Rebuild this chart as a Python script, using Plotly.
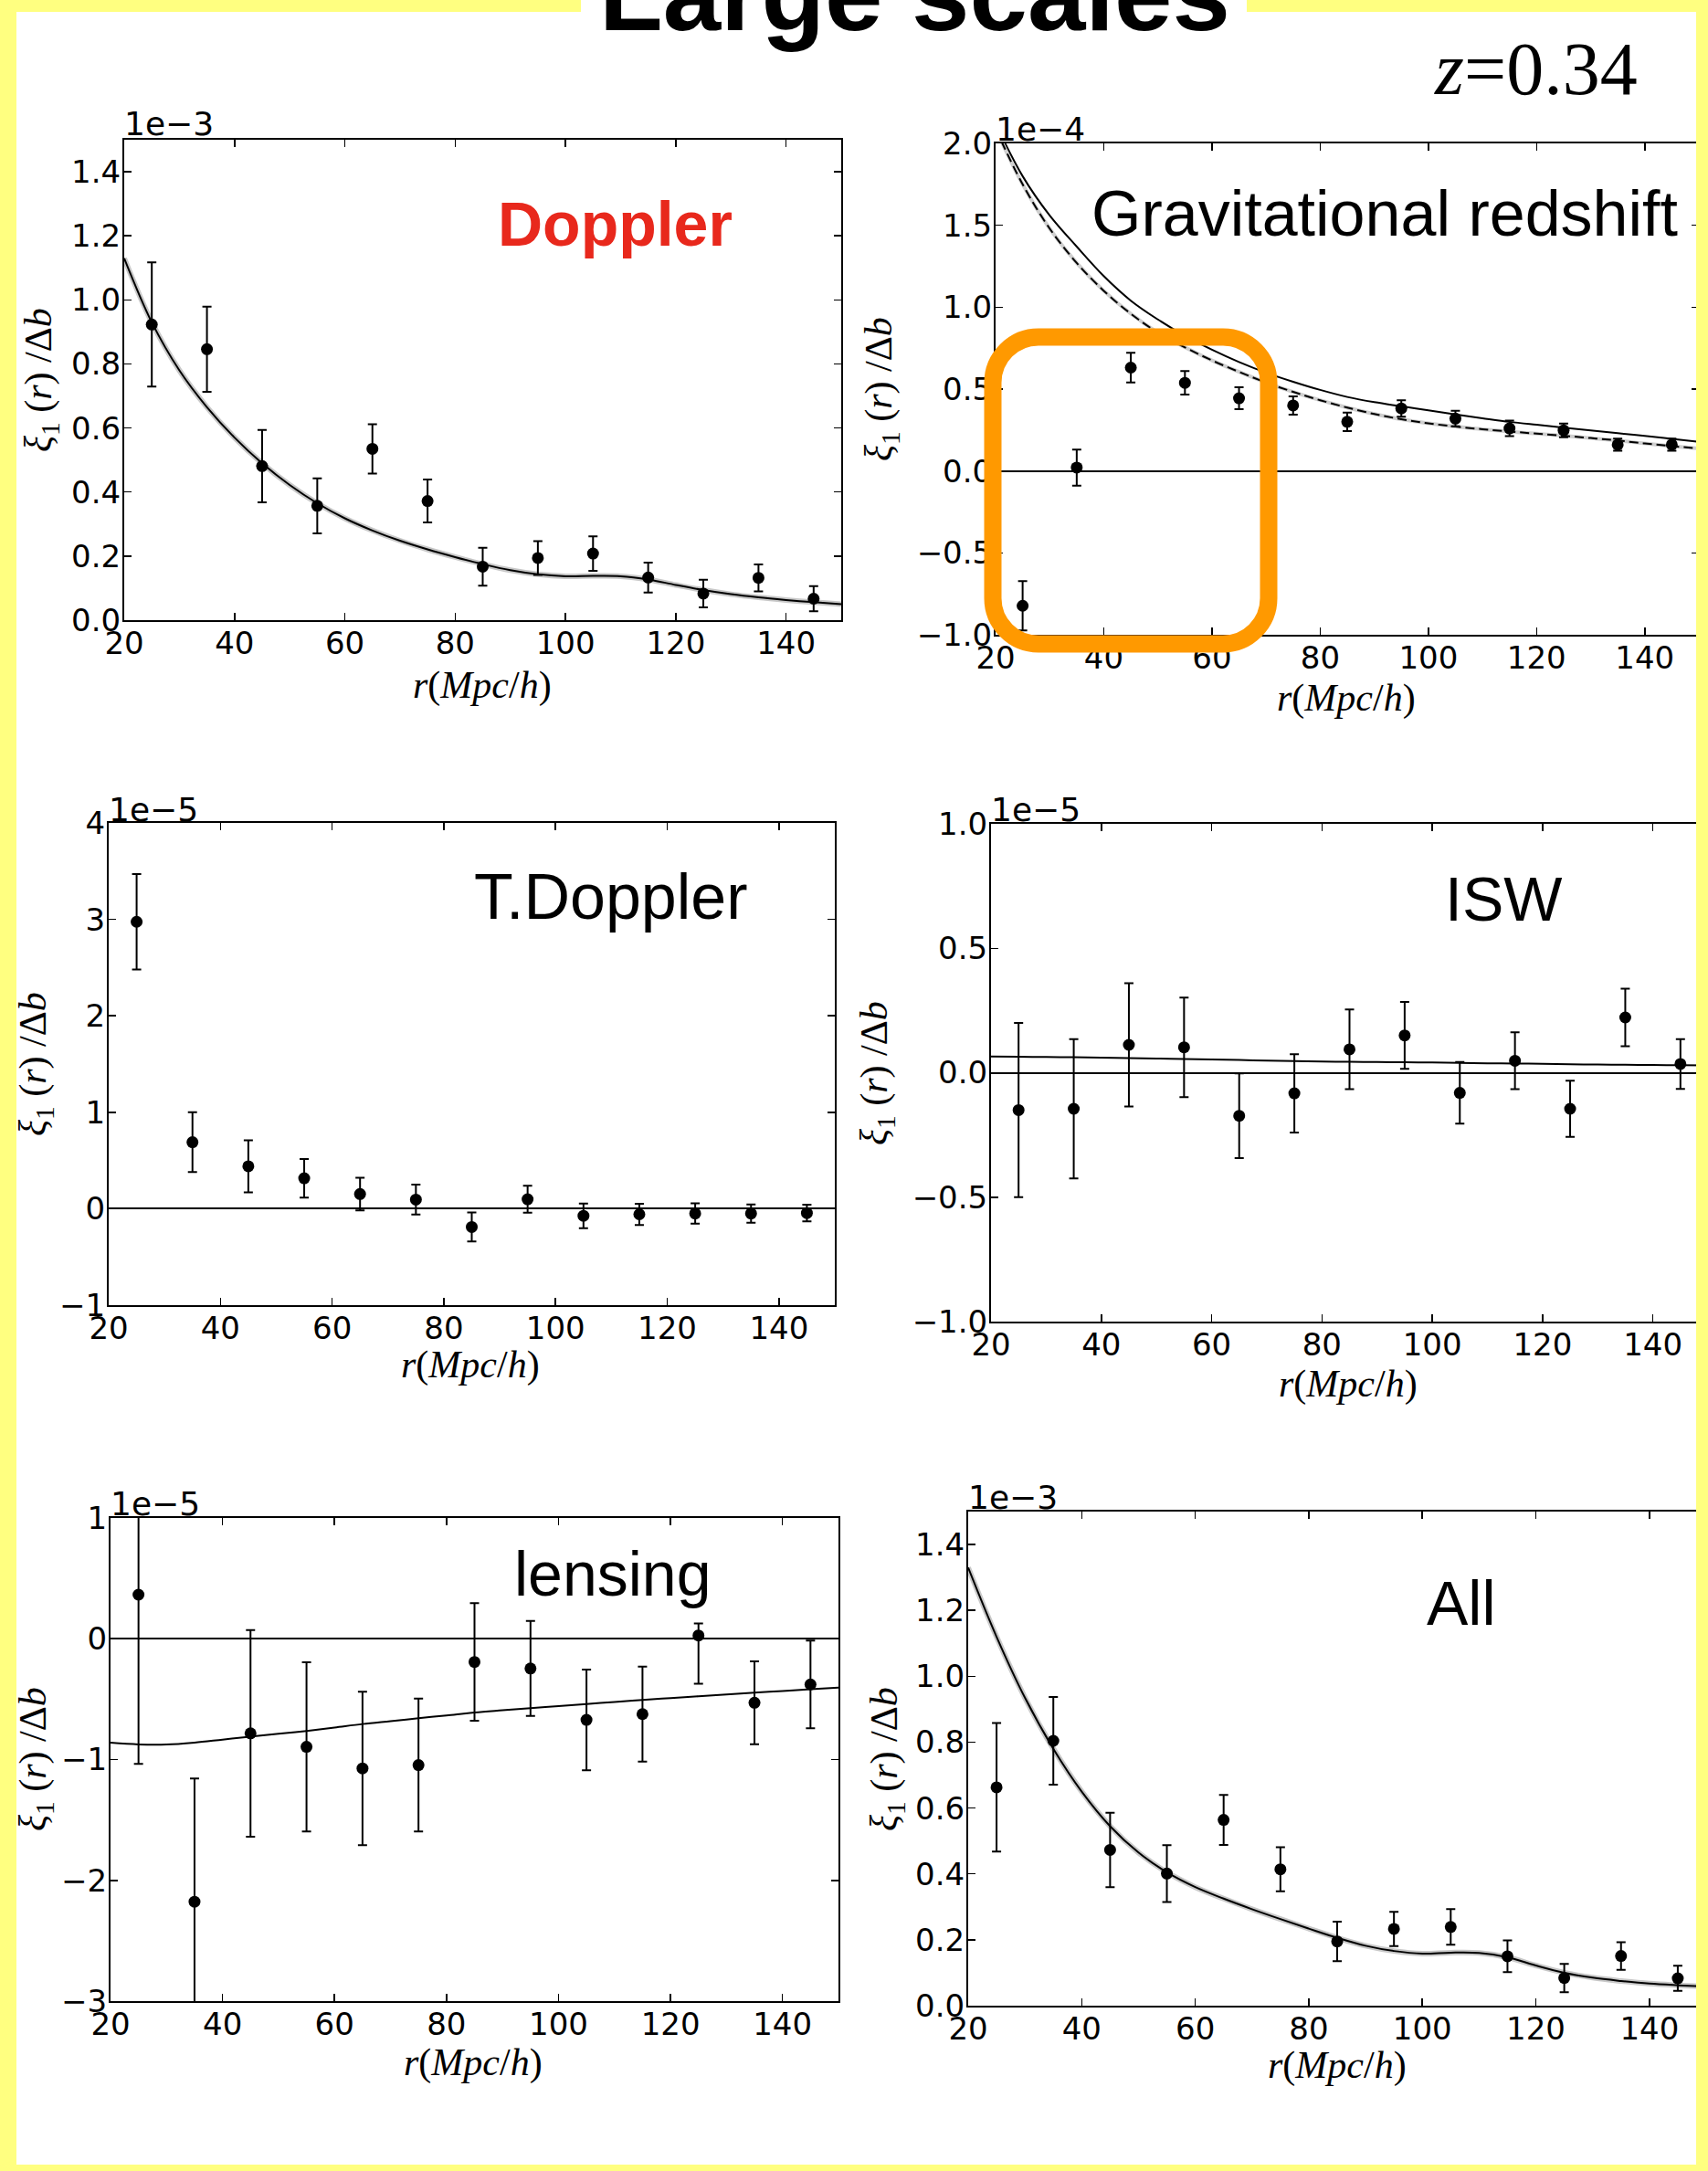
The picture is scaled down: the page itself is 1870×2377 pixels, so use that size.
import plotly.graph_objects as go

W, H = 1870, 2377

# ---------------- data ----------------
r_bins = [25, 35, 45, 55, 65, 75, 85, 95, 105, 115, 125, 135, 145]
r_model = [20, 25, 30, 35, 40, 45, 50, 55, 60, 65, 70, 75, 80, 85, 90, 95,
           100, 105, 110, 115, 120, 125, 130, 135, 140, 145, 150]
x_ticks = [20, 40, 60, 80, 100, 120, 140]

# Doppler (units of 1e-3)
doppler_xi = [0.923, 0.846, 0.481, 0.357, 0.535, 0.372, 0.167, 0.194, 0.208, 0.133, 0.083, 0.132, 0.067]
doppler_err = [0.194, 0.133, 0.113, 0.086, 0.077, 0.067, 0.059, 0.053, 0.054, 0.047, 0.043, 0.042, 0.039]
doppler_model = [1.13, 0.93, 0.78, 0.665, 0.57, 0.49, 0.422, 0.365, 0.318, 0.28, 0.248, 0.221, 0.197,
                 0.175, 0.156, 0.143, 0.137, 0.138, 0.137, 0.127, 0.11, 0.094, 0.081, 0.071, 0.063,
                 0.056, 0.05]

# Gravitational redshift (units of 1e-4)
grav_xi = [-0.823, 0.021, 0.631, 0.538, 0.444, 0.40, 0.30, 0.382, 0.32, 0.26, 0.248, 0.16, 0.16]
grav_err = [0.15, 0.11, 0.09, 0.072, 0.067, 0.056, 0.056, 0.05, 0.047, 0.047, 0.042, 0.037, 0.037]
grav_model_full = [2.12, 1.80, 1.56, 1.37, 1.19, 1.04, 0.925, 0.825, 0.74, 0.665, 0.60, 0.545, 0.495,
                   0.452, 0.42, 0.395, 0.37, 0.345, 0.322, 0.30, 0.282, 0.265, 0.248, 0.231, 0.214,
                   0.196, 0.178]
grav_model_dashed = [2.09, 1.75, 1.48, 1.27, 1.10, 0.96, 0.845, 0.755, 0.675, 0.605, 0.54, 0.483, 0.432,
                     0.387, 0.348, 0.316, 0.291, 0.271, 0.255, 0.241, 0.228, 0.215, 0.201, 0.186, 0.168,
                     0.152, 0.137]

# Transverse Doppler (units of 1e-5)
tdoppler_xi = [2.975, 0.69, 0.44, 0.316, 0.152, 0.094, -0.19, 0.098, -0.074, -0.058, -0.05, -0.05, -0.045]
tdoppler_err = [0.495, 0.31, 0.27, 0.20, 0.17, 0.155, 0.15, 0.14, 0.127, 0.11, 0.105, 0.095, 0.087]

# ISW (units of 1e-5)
isw_xi = [-0.15, -0.145, 0.112, 0.102, -0.173, -0.083, 0.094, 0.15, -0.081, 0.048, -0.145, 0.222, 0.035]
isw_err = [0.35, 0.28, 0.248, 0.20, 0.17, 0.157, 0.16, 0.134, 0.124, 0.114, 0.113, 0.116, 0.10]
isw_model = [0.065, 0.064, 0.063, 0.062, 0.061, 0.059, 0.057, 0.055, 0.053, 0.051, 0.049, 0.047, 0.045,
             0.044, 0.043, 0.042, 0.041, 0.039, 0.038, 0.037, 0.036, 0.034, 0.033, 0.032, 0.031,
             0.030, 0.029]

# Lensing (units of 1e-5)
lensing_xi = [0.365, -2.177, -0.783, -0.895, -1.073, -1.046, -0.192, -0.246, -0.672, -0.624, 0.027, -0.53, -0.378]
lensing_err_plus = [1.40, 1.02, 0.855, 0.70, 0.635, 0.55, 0.486, 0.393, 0.417, 0.393, 0.10, 0.343, 0.363]
lensing_err_minus = [1.40, 1.02, 0.855, 0.70, 0.635, 0.55, 0.486, 0.393, 0.417, 0.393, 0.40, 0.343, 0.363]
lensing_model = [-0.861, -0.875, -0.876, -0.86, -0.835, -0.81, -0.787, -0.763, -0.735, -0.706, -0.682,
                 -0.658, -0.635, -0.611, -0.592, -0.574, -0.557, -0.54, -0.523, -0.506, -0.491,
                 -0.476, -0.461, -0.446, -0.432, -0.418, -0.405]

# All effects (units of 1e-3)
all_xi = [0.663, 0.804, 0.473, 0.401, 0.564, 0.414, 0.195, 0.233, 0.239, 0.15, 0.084, 0.151, 0.083]
all_err = [0.195, 0.133, 0.113, 0.086, 0.076, 0.067, 0.06, 0.052, 0.054, 0.048, 0.043, 0.042, 0.038]
all_model = [1.33, 1.12, 0.935, 0.78, 0.65, 0.545, 0.465, 0.405, 0.36, 0.325, 0.293, 0.263, 0.234,
             0.206, 0.182, 0.166, 0.158, 0.161, 0.16, 0.147, 0.122, 0.10, 0.085, 0.075, 0.067,
             0.062, 0.058]

# ---------------- layout helpers ----------------
def px(x):
    return x / W

def py(y):
    return 1 - y / H

panels = [
    dict(box=(136, 921, 153, 679), yr=[0, 1.5], dtick=0.2, fmt=".1f", off="1e\u22123", offb=157.5,
         ytit=(45, 416), xtit=(528, 750)),
    dict(box=(1090, 1860, 157, 695), yr=[-1, 2], dtick=0.5, fmt=".1f", off="1e\u22124", offb=162.5,
         ytit=(965, 426), xtit=(1474, 765)),
    dict(box=(119, 914, 901, 1429), yr=[-1, 4], dtick=1, fmt="d", off="1e\u22125", offb=907.5,
         ytit=(39, 1165), xtit=(515, 1494)),
    dict(box=(1085, 1870, 902, 1447), yr=[-1, 1], dtick=0.5, fmt=".1f", off="1e\u22125", offb=908.5,
         ytit=(960, 1175), xtit=(1476, 1515)),
    dict(box=(121, 918, 1662, 2191), yr=[-3, 1], dtick=1, fmt="d", off="1e\u22125", offb=1667.5,
         ytit=(39, 1926), xtit=(518, 2258)),
    dict(box=(1060, 1868, 1655, 2196), yr=[0, 1.5], dtick=0.2, fmt=".1f", off="1e\u22123", offb=1660.5,
         ytit=(971, 1926), xtit=(1464, 2261)),
]

fig = go.Figure()

TICKFONT = dict(family="DejaVu Sans", size=34, color="black")
MATHFONT = "Liberation Serif"


def add_points(i, y, err, err_minus=None):
    ed = dict(type="data", array=err, visible=True, color="black", thickness=2, width=5)
    if err_minus is not None:
        ed["symmetric"] = False
        ed["arrayminus"] = err_minus
    fig.add_trace(go.Scatter(x=r_bins, y=y, mode="markers",
                             marker=dict(color="black", size=13),
                             error_y=ed, showlegend=False,
                             xaxis=f"x{i}", yaxis=f"y{i}"))


def add_line(i, y, color="black", width=2, dash="solid"):
    fig.add_trace(go.Scatter(x=r_model, y=y, mode="lines",
                             line=dict(color=color, width=width, dash=dash, shape="spline",
                                       smoothing=1.0),
                             showlegend=False, hoverinfo="skip",
                             xaxis=f"x{i}", yaxis=f"y{i}"))


# Panel 1: Doppler
add_line(1, doppler_model, color="#c8c8c8", width=6)
add_line(1, doppler_model)
add_points(1, doppler_xi, doppler_err)
# Panel 2: gravitational redshift
add_line(2, grav_model_full)
add_line(2, grav_model_dashed, color="#cfcfcf", width=4)
add_line(2, grav_model_dashed, dash="10px,5px")
add_points(2, grav_xi, grav_err)
# Panel 3: transverse Doppler
add_points(3, tdoppler_xi, tdoppler_err)
# Panel 4: ISW
add_line(4, isw_model)
add_points(4, isw_xi, isw_err)
# Panel 5: lensing
add_line(5, lensing_model)
add_points(5, lensing_xi, lensing_err_plus, lensing_err_minus)
# Panel 6: all
add_line(6, all_model, color="#c8c8c8", width=6)
add_line(6, all_model)
add_points(6, all_xi, all_err)

annotations = []
for k, p in enumerate(panels, start=1):
    l, r, t, b = p["box"]
    sfx = "" if k == 1 else str(k)
    fig.layout[f"xaxis{sfx}"] = dict(
        domain=[px(l), px(r)], range=[20, 150], anchor=f"y{k}",
        tickmode="array", tickvals=x_ticks, ticks="inside", ticklen=8, tickwidth=1.5,
        tickcolor="black", showline=True, linecolor="black", linewidth=2, mirror="ticks",
        showgrid=False, zeroline=False, tickfont=TICKFONT, fixedrange=True, automargin=False,
        ticklabelstandoff=-6)
    fig.layout[f"yaxis{sfx}"] = dict(
        domain=[py(b), py(t)], range=p["yr"], anchor=f"x{k}",
        tick0=0, dtick=p["dtick"], tickformat=p["fmt"], ticks="inside", ticklen=8, tickwidth=1.5,
        tickcolor="black", showline=True, linecolor="black", linewidth=2, mirror="ticks",
        showgrid=False, zeroline=True, zerolinecolor="black", zerolinewidth=2,
        tickfont=TICKFONT, fixedrange=True, automargin=False, ticklabelstandoff=-5)
    # offset (scale) text
    annotations.append(dict(text=p["off"], x=px(l - 2), y=py(p["offb"] + 1), xref="paper", yref="paper",
                            xanchor="left", yanchor="bottom", showarrow=False,
                            font=dict(family="DejaVu Sans", size=36, color="black")))
    # y title
    annotations.append(dict(text="<i>\u03be</i><sub>1</sub> (<i>r</i>) /\u0394<i>b</i>",
                            x=px(p["ytit"][0]), y=py(p["ytit"][1]), xref="paper", yref="paper",
                            xanchor="center", yanchor="middle", textangle=-90, showarrow=False,
                            font=dict(family=MATHFONT, size=42, color="black")))
    # x title
    annotations.append(dict(text="<i>r</i>(<i>Mpc</i>/<i>h</i>)",
                            x=px(p["xtit"][0]), y=py(p["xtit"][1]), xref="paper", yref="paper",
                            xanchor="center", yanchor="middle", showarrow=False,
                            font=dict(family=MATHFONT, size=42, color="black")))

labels = [
    ("<b>Doppler</b>", 673, 285, 68, "#E8281C"),
    ("Gravitational redshift", 1516, 275, 70, "black"),
    ("T.Doppler", 669, 1023, 70, "black"),
    ("ISW", 1646, 1024, 68, "black"),
    ("lensing", 671, 1763, 68, "black"),
    ("All", 1600, 1795, 68, "black"),
]
for txt, x, y, s, c in labels:
    annotations.append(dict(text=txt, x=px(x), y=py(y), xref="paper", yref="paper",
                            xanchor="center", yanchor="bottom", showarrow=False,
                            font=dict(family="Liberation Sans", size=s, color=c)))

# title and redshift label
annotations.append(dict(text="<b>Large scales</b>", x=px(1001), y=py(59), xref="paper", yref="paper",
                        xanchor="center", yanchor="bottom", showarrow=False,
                        font=dict(family="Liberation Sans", size=114, color="black")))
annotations.append(dict(text="<i>z</i>=0.34", x=px(1568), y=py(123), xref="paper", yref="paper",
                        xanchor="left", yanchor="bottom", showarrow=False,
                        font=dict(family="Liberation Serif", size=82, color="black")))

# ---------------- shapes: yellow frame, title gap, orange box ----------------
YEL = "#FFFF80"
shapes = []
for (x0, x1, y0, y1) in [(0, 18, 0, H), (1857, W, 0, H), (0, W, 0, 13), (0, W, 2370, H)]:
    shapes.append(dict(type="rect", xref="paper", yref="paper", x0=px(x0), x1=px(x1),
                       y0=py(y1), y1=py(y0), fillcolor=YEL, line=dict(width=0), layer="above"))
shapes.append(dict(type="rect", xref="paper", yref="paper", x0=px(636), x1=px(1365),
                   y0=py(13), y1=py(0), fillcolor="white", line=dict(width=0), layer="above"))

L, R, T, B, rad = 1087, 1389, 369, 705, 50
kk = 0.5523 * rad


def P(x, y):
    return f"{px(x):.6f},{py(y):.6f}"


path = (f"M {P(L + rad, T)} L {P(R - rad, T)} "
        f"C {P(R - rad + kk, T)} {P(R, T + rad - kk)} {P(R, T + rad)} "
        f"L {P(R, B - rad)} "
        f"C {P(R, B - rad + kk)} {P(R - rad + kk, B)} {P(R - rad, B)} "
        f"L {P(L + rad, B)} "
        f"C {P(L + rad - kk, B)} {P(L, B - rad + kk)} {P(L, B - rad)} "
        f"L {P(L, T + rad)} "
        f"C {P(L, T + rad - kk)} {P(L + rad - kk, T)} {P(L + rad, T)} Z")
shapes.append(dict(type="path", xref="paper", yref="paper", path=path,
                   line=dict(color="#FF9900", width=19), fillcolor="rgba(0,0,0,0)", layer="above"))

fig.update_layout(width=W, height=H,
                  margin=dict(l=0, r=0, t=0, b=0, pad=0, autoexpand=False),
                  paper_bgcolor="white", plot_bgcolor="white",
                  annotations=annotations, shapes=shapes, showlegend=False)

fig.write_html("out.html",
               config={"displayModeBar": False, "staticPlot": True},
               post_script="document.body.style.margin='0px';document.body.style.overflow='hidden';")
